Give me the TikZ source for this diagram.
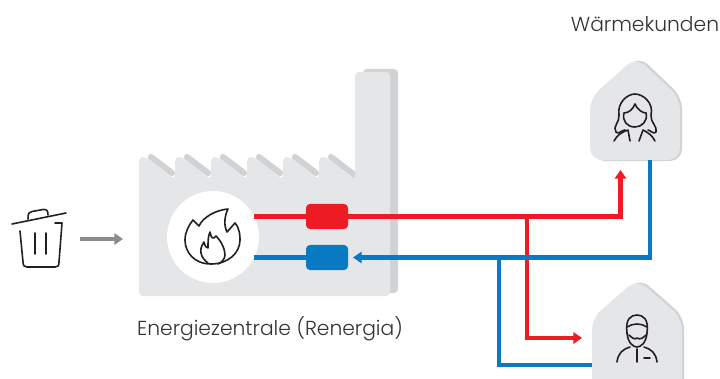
\documentclass[tikz,border=0pt]{standalone}
\usepackage{fontspec}
\setmainfont{Poppins Light}
\usetikzlibrary{arrows.meta}
\definecolor{wall}{RGB}{229,230,232}
\definecolor{wallshadow}{RGB}{208,210,212}
\definecolor{hotred}{RGB}{237,28,36}
\definecolor{coldblue}{RGB}{8,122,196}
\definecolor{icon}{RGB}{35,31,32}
\tikzset{
  pipe/.style={line width=3.4pt},
  hot/.style={pipe, draw=hotred},
  cold/.style={pipe, draw=coldblue},
  tip/.style={-{Triangle[length=6.5pt,width=8.5pt]}},
  icn/.style={draw=icon, line width=1.2pt, line cap=round, line join=round},
  tank/.style={rounded corners=3pt, minimum width=31.5pt, minimum height=18.8pt, inner sep=0pt},
  label/.style={font=\fontsize{15.2}{18}\selectfont, text=black!80, inner sep=0pt},
}
\begin{document}
\begin{tikzpicture}[x=0.75pt, y=-0.75pt]
    \useasboundingbox (0,0) rectangle (720,378);
    \clip (0,0) rectangle (720,378);
    % factory
    \fill[wallshadow, rounded corners=3pt] (363,69) rectangle (398,293);
    \foreach \x in {151,187,223,259,295}
      \draw[wallshadow, line width=4.6pt, line cap=round] (\x,157) -- (\x+21,173);
    \draw[wallshadow, line width=4.6pt, line cap=round] (331,157) -- (357,177);
    \fill[wall, rounded corners=3pt] (139,296) -- (139,157) -- (146,157) -- (175,179.5) -- (175,157) -- (182,157)
      -- (211,179.5) -- (211,157) -- (218,157) -- (247,179.5) -- (247,157) -- (254,157) -- (283,179.5) -- (283,157)
      -- (290,157) -- (319,179.5) -- (319,157) -- (326,157) -- (355,180) -- (355,72) -- (390,72) -- (390,296) -- cycle;
    \node[circle, fill=white, minimum size=69pt, inner sep=0pt] (burner) at (213,237) {};
    % flame
    \draw[icn] (211,264) .. controls (194,264) and (185,252) .. (185,240) .. controls (185,232) and (189,225) .. (193,220)
      -- (199,226) .. controls (203,217) and (216,210) .. (228,209) .. controls (224,217) and (224,226) .. (227,232)
      -- (235,223) .. controls (240,229) and (240,236) .. (240,240) .. controls (240,253) and (228,264) .. (211,264);
    \draw[icn] (208,263) .. controls (201,258) and (198,250) .. (204,242) .. controls (205,247) and (207,248) .. (208,248)
      .. controls (208,242) and (208,236) .. (210,232) .. controls (211,238) and (213,240) .. (216,236)
      .. controls (222,242) and (225,250) .. (225,255) .. controls (225,259) and (221,263) .. (218,264);
    % pipes
    \node[tank, fill=hotred] (hotbox) at (327,216.5) {};
    \node[tank, fill=coldblue] (coldbox) at (327,257.5) {};
    \node[label] (plant) at (270,329) {Energiezentrale (Renergia)};
    \node[label] (users) at (645,24) {Wärmekunden};
    % houses
    \fill[wallshadow, rounded corners=9pt] (593,161) -- (593,97) -- (639,56) -- (682,97) -- (682,161) -- cycle;
    \fill[wall, rounded corners=9pt] (590,160) -- (590,98) -- (636,57) -- (680,98) -- (680,160) -- cycle;
    \fill[wallshadow, rounded corners=9pt] (595,400) -- (595,317) -- (640,278) -- (684,317) -- (684,400) -- cycle;
    \fill[wall, rounded corners=9pt] (592,400) -- (592,318) -- (637,279) -- (682,318) -- (682,400) -- cycle;
    \coordinate (userA) at (650,160);
    \coordinate (userAin) at (620.5,170);
    \coordinate (userB) at (592,365);
    \coordinate (userBin) at (582,338);
    \coordinate (coldin) at (353,257.5);
    % flow lines
    \draw[hot] (burner) ++(41,-20.5) -- (hotbox);
    \draw[cold] (burner) ++(41,20.5) -- (coldbox);
    \draw[hot, tip] (hotbox.east) -- (620.5,216.5) -- (userAin);
    \draw[hot, tip] (527,216.5) -- (527,338) -- (userBin);
    \draw[cold, tip] (userA) -- (650,257.5) -- (coldin);
    \draw[cold] (499,257.5) -- (499,365) -- (userB);
    % waste bin
    \draw[icn] (12,224) -- (66,213);
    \draw[icn] (28,219) .. controls (28,213) and (29,212) .. (32,211.5) -- (43,209.5) .. controls (47,209) and (48,211) .. (48,215);
    \draw[icn] (20,231) -- (23,262) .. controls (23,266) and (25,267) .. (27,267) -- (55,267)
      .. controls (58,267) and (59,266) .. (59,262) -- (62,223) -- (55,223);
    \draw[icn] (35,233) -- (35,254);
    \draw[icn] (46,233) -- (46,254);
    \coordinate (binout) at (80,239);
    \coordinate (plantin) at (123,239);
    \draw[draw=black!45, line width=3.4pt, tip] (binout) -- (plantin);
    % woman
    \draw[icn] (616,132) .. controls (612,127) and (620,122) .. (619,115) .. controls (617,103) and (627,94) .. (635,94)
      .. controls (643,94) and (654,103) .. (651,115) .. controls (650,122) and (658,127) .. (656,132) .. controls (654,135) and (650,130) .. (648,130);
    \draw[icn] (616,132) .. controls (618,135) and (622,130) .. (625,130);
    \draw[icn] (624,113) .. controls (629,113) and (633,109) .. (635,104) .. controls (637,109) and (642,113) .. (646,113);
    \draw[icn] (624,113) .. controls (622,121) and (627,127) .. (635,127) .. controls (642,127) and (648,121) .. (646,113);
    \draw[icn] (614,141) .. controls (617,135) and (622,132) .. (628,130) -- (630,141);
    \draw[icn] (655,141) .. controls (652,135) and (647,132) .. (643,130) -- (639,141);
    % man
    \draw[icn] (627,333) .. controls (625,319) and (631,315) .. (637,315) .. controls (643,315) and (649,319) .. (647,333);
    \draw[icn] (627,327) .. controls (633,323) and (641,323) .. (647,327);
    \draw[icn] (627,333) .. controls (628,344) and (634,347) .. (637,347) .. controls (640,347) and (646,344) .. (647,333);
    \draw[icn] (629,335) .. controls (632,338) and (635,340) .. (637,338) .. controls (640,340) and (643,338) .. (646,335);
    \draw[icn] (617,362) .. controls (618,353) and (623,349) .. (630,347);
    \draw[icn] (657,362) .. controls (656,353) and (651,349) .. (644,347);
    \draw[icn] (637,349) -- (637,362);
    \draw[icn] (644,358) -- (650,358);
  \end{tikzpicture}
\end{document}
